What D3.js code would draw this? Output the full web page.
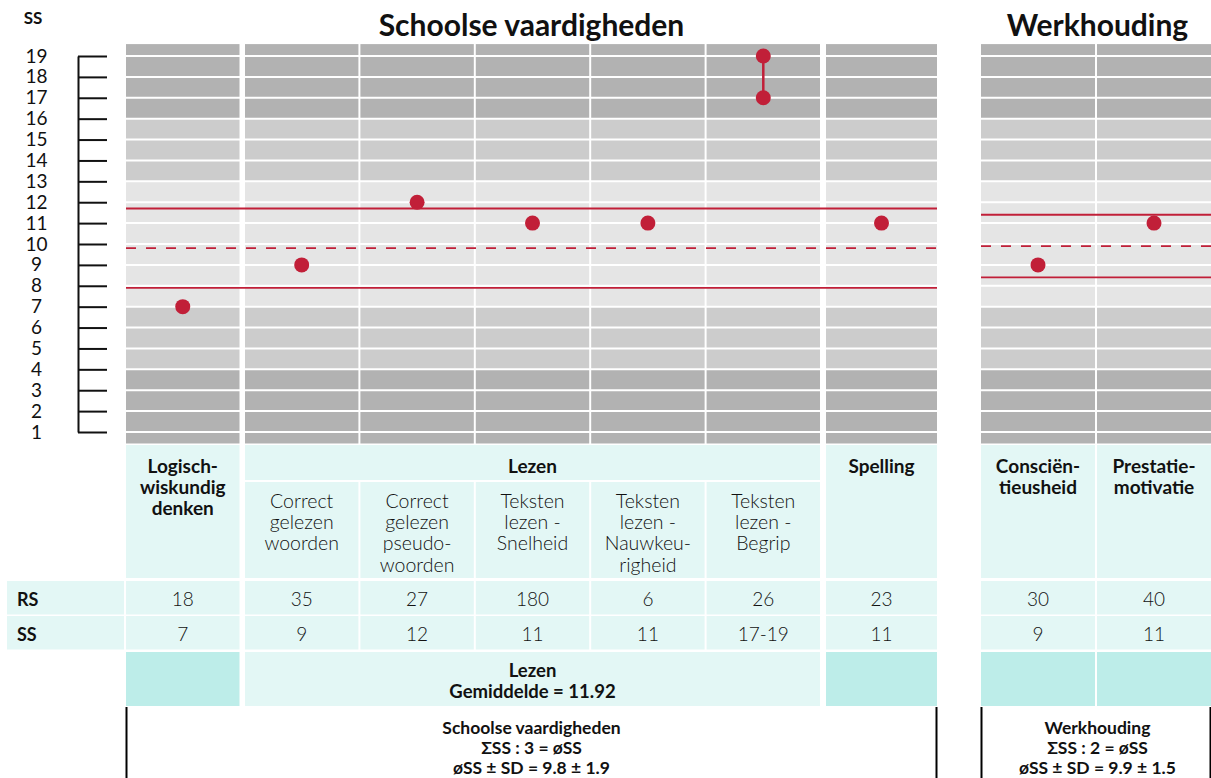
<!DOCTYPE html>
<html><head><meta charset="utf-8">
<script src="https://cdn.jsdelivr.net/npm/d3@7"></script>
<style>
body{margin:0;background:#fff;}
svg{display:block;font-family:Lato,'Open Sans',sans-serif;}
</style>
</head><body>
<svg id="chart" width="1211" height="778"></svg>
<script>
// ---------- DATA ----------
const categories = ["Logisch-wiskundig denken","Correct gelezen woorden","Correct gelezen pseudowoorden","Teksten lezen - Snelheid","Teksten lezen - Nauwkeurigheid","Teksten lezen - Begrip","Spelling","Consciëntieusheid","Prestatiemotivatie"];
const groupOf = ["Logisch","Lezen","Lezen","Lezen","Lezen","Lezen","Spelling","Werkhouding","Werkhouding"];
const headerLines = [["Logisch-","wiskundig","denken"],["Correct","gelezen","woorden"],["Correct","gelezen","pseudo-","woorden"],["Teksten","lezen -","Snelheid"],["Teksten","lezen -","Nauwkeu-","righeid"],["Teksten","lezen -","Begrip"],["Spelling"],["Consciën-","tieusheid"],["Prestatie-","motivatie"]];
const ssLow  = [7, 9, 12, 11, 11, 17, 11, 9, 11];
const ssHigh = [7, 9, 12, 11, 11, 19, 11, 9, 11];
const rsValues = [18, 35, 27, 180, 6, 26, 23, 30, 40];
const ssLabels = ["7","9","12","11","11","17-19","11","9","11"];
const yTickValues = [1,2,3,4,5,6,7,8,9,10,11,12,13,14,15,16,17,18,19];
const bandBreaks = [4, 7, 13, 16];
const sectionNames = ["Schoolse vaardigheden","Werkhouding"];
const sectionGroups = [["Logisch","Lezen","Spelling"],["Werkhouding"]];
const sectionMean = [9.8, 9.9];
const sectionSD = [1.9, 1.5];
const sectionFormula = ["ΣSS : 3 = øSS","ΣSS : 2 = øSS"];
const lezenLabel = ["Lezen","Gemiddelde = 11.92"];
const rowLabels = ["RS","SS"];

// ---------- LAYOUT ----------
const svg = d3.select("#chart");
const red = "#c11f38", dark = "#b2b2b2", mid = "#cccccc", light = "#e5e5e5";
const cyan = "#e3f7f5", cyanDark = "#bdede9", ink = "#111";
const groupRange = {Logisch:[126,239.5], Lezen:[245,820], Spelling:[826,937], Werkhouding:[981,1211]};
const y = d3.scaleLinear().domain([1,19]).range([432,56]);
const yLo = 0.45, yHi = 19.57;

const groupScales = {};
Object.keys(groupRange).forEach(g => {
  const idx = categories.map((c,i)=>i).filter(i => groupOf[i] === g);
  groupScales[g] = d3.scaleBand().domain(idx).range(groupRange[g]).paddingInner(idx.length > 1 ? 2/116 : 0);
});
const colX = i => groupScales[groupOf[i]](i);
const colW = i => groupScales[groupOf[i]].bandwidth();
const colC = i => colX(i) + colW(i)/2;
const sectionRange = sectionGroups.map(gs => [d3.min(gs, g => groupRange[g][0]), d3.max(gs, g => groupRange[g][1])]);

// ---------- SHADED BANDS ----------
const edges = [yLo, ...bandBreaks, yHi];
const shades = [dark, mid, light, mid, dark];
const bandData = [];
categories.forEach((c,i) => d3.range(shades.length).forEach(k => bandData.push({i, lo: edges[k], hi: edges[k+1], fill: shades[k]})));
svg.append("g").selectAll("rect").data(bandData).join("rect")
  .attr("x", d => colX(d.i)).attr("width", d => colW(d.i))
  .attr("y", d => y(d.hi)).attr("height", d => y(d.lo) - y(d.hi))
  .attr("fill", d => d.fill);
svg.append("g").selectAll("line").data(yTickValues).join("line")
  .attr("x1", groupRange.Logisch[0]).attr("x2", 1211)
  .attr("y1", d => y(d)).attr("y2", d => y(d))
  .attr("stroke", "#fff").attr("stroke-width", 2);

// ---------- AXIS ----------
const axis = svg.append("g").attr("transform", "translate(78,0)")
  .call(d3.axisRight(y).tickValues(yTickValues).tickSize(29).tickSizeOuter(0).tickFormat(d3.format("d")));
axis.select(".domain").attr("stroke", ink).attr("stroke-width", 2);
axis.selectAll(".tick line").attr("stroke", ink).attr("stroke-width", 2);
axis.selectAll(".tick text").attr("x", -41.5).attr("text-anchor", "middle")
  .attr("font-size", 19).attr("font-family", "Lato, sans-serif").attr("fill", ink);
svg.append("text").attr("x", 33).attr("y", 17).attr("text-anchor", "middle").attr("dominant-baseline", "central")
  .attr("font-size", 17).attr("font-weight", 700).attr("fill", ink).text("SS");

// ---------- TITLES ----------
sectionNames.forEach((s,k) => {
  svg.append("text").attr("x", (sectionRange[k][0] + sectionRange[k][1]) / 2 + (k===0 ? 0 : 1.5)).attr("y", 24)
    .attr("text-anchor", "middle").attr("dominant-baseline", "central")
    .attr("font-size", 30).attr("font-weight", 700).attr("fill", ink).text(s);
});

// ---------- REFERENCE LINES ----------
const refData = [];
sectionNames.forEach((s,k) => {
  refData.push({k, v: sectionMean[k] + sectionSD[k], dash: null});
  refData.push({k, v: sectionMean[k], dash: "10,10"});
  refData.push({k, v: sectionMean[k] - sectionSD[k], dash: null});
});
svg.append("g").selectAll("line").data(refData).join("line")
  .attr("x1", d => sectionRange[d.k][0]).attr("x2", d => sectionRange[d.k][1])
  .attr("y1", d => y(d.v)).attr("y2", d => y(d.v))
  .attr("stroke", red).attr("stroke-width", 1.8).attr("stroke-dasharray", d => d.dash);

// ---------- POINTS ----------
const pts = svg.append("g");
pts.selectAll("line").data(categories.map((c,i)=>i).filter(i => ssLow[i] !== ssHigh[i])).join("line")
  .attr("x1", colC).attr("x2", colC).attr("y1", i => y(ssLow[i])).attr("y2", i => y(ssHigh[i]))
  .attr("stroke", red).attr("stroke-width", 2.5);
const ptData = [];
categories.forEach((c,i) => { ptData.push({i, v: ssLow[i]}); if (ssHigh[i] !== ssLow[i]) ptData.push({i, v: ssHigh[i]}); });
pts.selectAll("circle").data(ptData).join("circle")
  .attr("cx", d => colC(d.i)).attr("cy", d => y(d.v)).attr("r", 7.5).attr("fill", red);

// ---------- TABLE ----------
const tbl = svg.append("g");
const hTop = 445, hBot = 578, lezHeadBot = 480, subTop = 482;
const rowTop = [581, 616], rowH = 33.5;
const sumTop = 652, sumBot = 706;
const lineH = 21.4;

function multiline(x, yTop, lines, size, weight, lh) {
  lines.forEach((ln, j) => {
    tbl.append("text").attr("x", x).attr("y", yTop + j * lh).attr("text-anchor", "middle")
      .attr("dominant-baseline", "central").attr("font-size", size).attr("font-weight", weight)
      .attr("fill", ink).text(ln);
  });
}

// header cells
categories.forEach((c,i) => {
  if (groupOf[i] === "Lezen") {
    tbl.append("rect").attr("x", colX(i)).attr("y", subTop).attr("width", colW(i)).attr("height", hBot - subTop).attr("fill", cyan);
    multiline(colC(i), 500, headerLines[i], 19.5, 300, lineH);
  } else {
    tbl.append("rect").attr("x", colX(i)).attr("y", hTop).attr("width", colW(i)).attr("height", hBot - hTop).attr("fill", cyan);
    multiline(colC(i), 465, headerLines[i], 19, 700, lineH);
  }
});
tbl.append("rect").attr("x", groupRange.Lezen[0]).attr("y", hTop).attr("width", groupRange.Lezen[1] - groupRange.Lezen[0])
  .attr("height", lezHeadBot - hTop).attr("fill", cyan);
multiline((groupRange.Lezen[0] + groupRange.Lezen[1]) / 2, 465, ["Lezen"], 19, 700, lineH);

// RS / SS rows
const rowValues = [rsValues.map(String), ssLabels];
rowLabels.forEach((lab, r) => {
  tbl.append("rect").attr("x", 7).attr("y", rowTop[r]).attr("width", 117).attr("height", rowH).attr("fill", cyan);
  tbl.append("text").attr("x", 17).attr("y", rowTop[r] + rowH/2 + 1).attr("dominant-baseline", "central")
    .attr("font-size", 18).attr("font-weight", 700).attr("fill", ink).text(lab);
  categories.forEach((c,i) => {
    tbl.append("rect").attr("x", colX(i)).attr("y", rowTop[r]).attr("width", colW(i)).attr("height", rowH).attr("fill", cyan);
    tbl.append("text").attr("x", colC(i)).attr("y", rowTop[r] + rowH/2 + 1).attr("text-anchor", "middle")
      .attr("dominant-baseline", "central").attr("font-size", 19).attr("font-weight", 300).attr("fill", ink).text(rowValues[r][i]);
  });
});

// summary row
categories.forEach((c,i) => {
  if (groupOf[i] !== "Lezen")
    tbl.append("rect").attr("x", colX(i)).attr("y", sumTop).attr("width", colW(i)).attr("height", sumBot - sumTop).attr("fill", cyanDark);
});
tbl.append("rect").attr("x", groupRange.Lezen[0]).attr("y", sumTop).attr("width", groupRange.Lezen[1] - groupRange.Lezen[0])
  .attr("height", sumBot - sumTop).attr("fill", cyan);
multiline((groupRange.Lezen[0] + groupRange.Lezen[1]) / 2, 670, lezenLabel, 18.5, 700, 20.5);

// section boxes
sectionNames.forEach((s,k) => {
  [sectionRange[k][0] + 0.5, sectionRange[k][1] - 0.5].forEach(xv => {
    tbl.append("line").attr("x1", xv).attr("x2", xv).attr("y1", 707).attr("y2", 778).attr("stroke", "#000").attr("stroke-width", 2);
  });
  const fmtSD = `øSS ± SD = ${sectionMean[k].toFixed(1)} ± ${sectionSD[k].toFixed(1)}`;
  multiline((sectionRange[k][0] + sectionRange[k][1]) / 2 + (k===0 ? 0 : 1.5), 727.5, [s, sectionFormula[k], fmtSD], 17.5, 700, 19.8);
});
</script>
</body></html>
